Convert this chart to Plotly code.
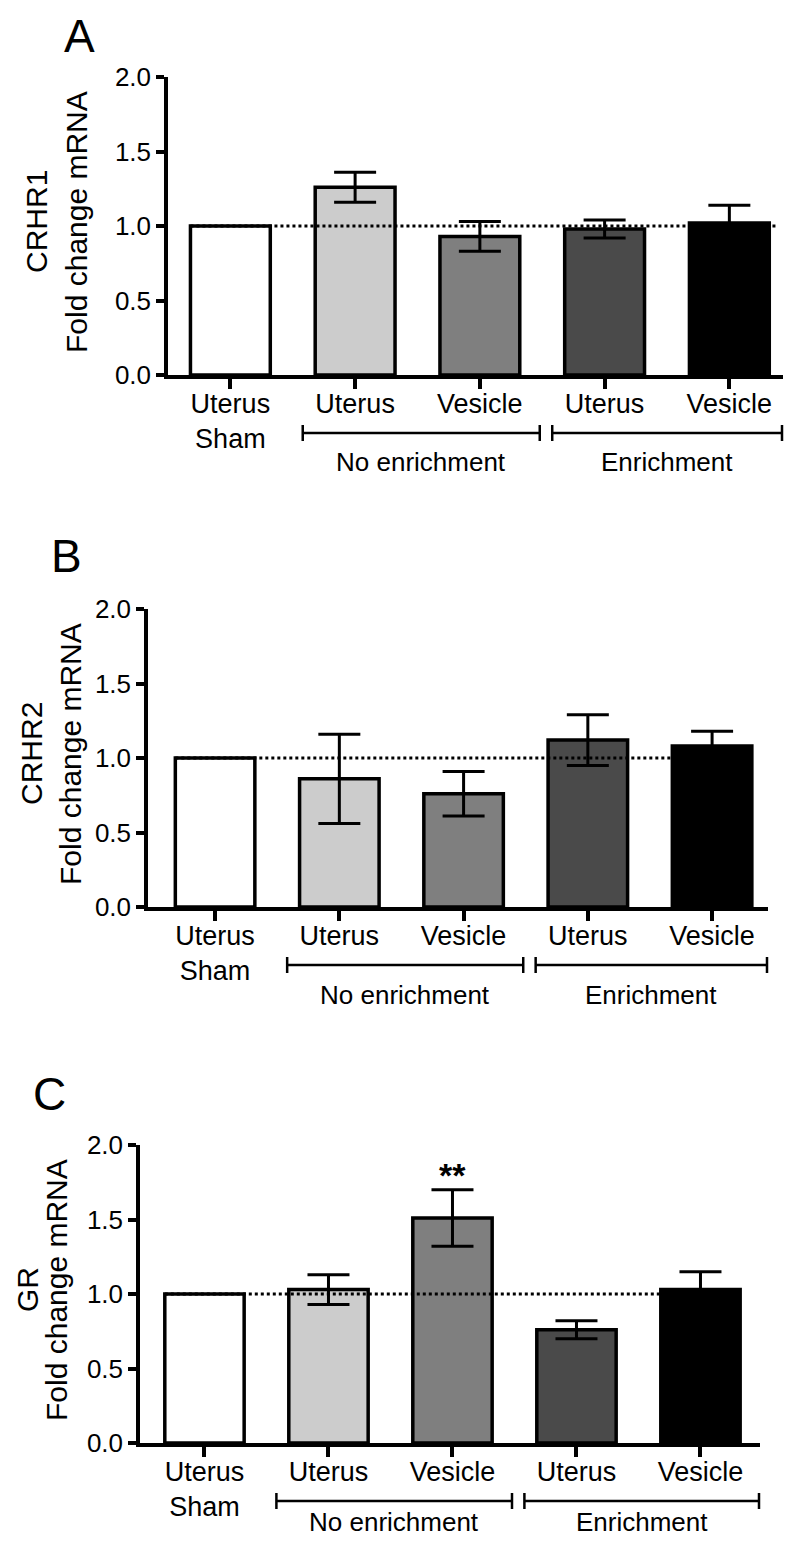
import plotly.graph_objects as go

# page is 792x1548; the html body adds an 8px margin, so the figure is made smaller
W, H = 792, 1548
OFF = 8
FW, FH = W - 2 * OFF, H - 2 * OFF

# data
categories = ["Uterus<br>Sham", "Uterus", "Vesicle", "Uterus", "Vesicle"]
bar_colors = ["white", "#cccccc", "#7f7f7f", "#4a4a4a", "black"]
groups = ["No enrichment", "Enrichment"]
group_idx = [(1, 2), (3, 4)]

crhr1_mean = [1.00, 1.26, 0.93, 0.98, 1.02]
crhr1_sem = [0.00, 0.10, 0.10, 0.06, 0.12]

crhr2_mean = [1.00, 0.86, 0.76, 1.12, 1.08]
crhr2_sem = [0.00, 0.30, 0.15, 0.17, 0.10]

gr_mean = [1.00, 1.03, 1.51, 0.76, 1.03]
gr_sem = [0.00, 0.10, 0.19, 0.06, 0.12]
gr_sig = ["", "", "**", "", ""]

y_ticks = [0.0, 0.5, 1.0, 1.5, 2.0]

FONT = "Arial, Liberation Sans, sans-serif"
LW = 3.5

# panel geometry in page pixels
panels = [
    dict(letter="A", gene="CRHR1", mean=crhr1_mean, sem=crhr1_sem, sig=None,
         left=168, right=783, top=77, bottom=375, xr=[-0.50, 4.43],
         letter_xy=(79, None), gene_x=37, fold_x=77, dot_end=4.38, glab=87),
    dict(letter="B", gene="CRHR2", mean=crhr2_mean, sem=crhr2_sem, sig=None,
         left=148, right=768, top=609, bottom=907, xr=[-0.54, 4.45],
         letter_xy=(66, 556), gene_x=31, fold_x=70, dot_end=3.70, glab=88),
    dict(letter="C", gene="GR", mean=gr_mean, sem=gr_sem, sig=gr_sig,
         left=140, right=760, top=1145, bottom=1443, xr=[-0.52, 4.48],
         letter_xy=(49, 1094), gene_x=27, fold_x=56, dot_end=3.70, glab=79),
]

fig = go.Figure()
shapes = []
annotations = []


def px_x(px):
    return min(max((px - OFF) / FW, 0), 1)


def px_y(py):
    return min(max(1 - (py - OFF) / FH, 0), 1)


for k, p in enumerate(panels):
    n = "" if k == 0 else str(k + 1)
    xa, ya = "x" + n, "y" + n
    x_idx = list(range(len(categories)))

    fig.add_trace(go.Bar(
        x=x_idx, y=p["mean"], width=0.64,
        marker=dict(color=bar_colors, line=dict(color="black", width=LW)),
        xaxis=xa, yaxis=ya, showlegend=False,
    ))
    fig.add_trace(go.Scatter(
        x=x_idx[1:], y=p["mean"][1:], mode="markers",
        marker=dict(size=1, opacity=0),
        error_y=dict(type="data", array=p["sem"][1:], color="black",
                     thickness=3, width=21),
        xaxis=xa, yaxis=ya, showlegend=False,
    ))

    dom_x = [px_x(p["left"]), px_x(p["right"])]
    dom_y = [px_y(p["bottom"]), px_y(p["top"])]
    fig.update_layout({
        "xaxis" + n: dict(domain=dom_x, range=p["xr"], anchor=ya, automargin=False,
                          tickvals=x_idx, ticktext=categories,
                          showline=True, linewidth=LW, linecolor="black",
                          ticks="outside", ticklen=10, tickwidth=LW, tickcolor="black",
                          ticklabelstandoff=-8,
                          showgrid=False, zeroline=False,
                          tickfont=dict(family=FONT, size=27, color="black")),
        "yaxis" + n: dict(domain=dom_y, range=[0, 2], anchor=xa, automargin=False,
                          tickvals=y_ticks, ticktext=[f"{v:.1f}" for v in y_ticks],
                          showline=True, linewidth=LW, linecolor="black",
                          ticks="outside", ticklen=8, tickwidth=LW, tickcolor="black",
                          showgrid=False, zeroline=False,
                          tickfont=dict(family=FONT, size=26, color="black")),
    })

    # reference line at 1.0
    shapes.append(dict(type="line", xref=xa, yref=ya, x0=-0.32, x1=p["dot_end"],
                       y0=1, y1=1, line=dict(color="black", width=3, dash="dot"),
                       layer="above"))

    # group brackets under the axis
    span = p["xr"][1] - p["xr"][0]

    def to_px(v):
        return p["left"] + (v - p["xr"][0]) / span * (p["right"] - p["left"])

    yb = p["bottom"] + 58
    for g, (i0, i1) in zip(groups, group_idx):
        xl, xr_ = px_x(to_px(i0 - 0.42)), px_x(min(to_px(i1 + 0.48), p["right"] - 1))
        line = dict(color="black", width=2.5)
        shapes.append(dict(type="line", xref="paper", yref="paper", x0=xl, x1=xr_,
                           y0=px_y(yb), y1=px_y(yb), line=line))
        for xe in (xl, xr_):
            shapes.append(dict(type="line", xref="paper", yref="paper", x0=xe, x1=xe,
                               y0=px_y(yb - 8), y1=px_y(yb + 8), line=line))
        annotations.append(dict(text=g, xref="paper", yref="paper",
                                x=(xl + xr_) / 2, y=px_y(p["bottom"] + p["glab"]),
                                showarrow=False,
                                xanchor="center", yanchor="middle",
                                font=dict(family=FONT, size=26, color="black")))

    # panel letter (the top one sits against the top edge)
    lx, ly = p["letter_xy"]
    annotations.append(dict(text=p["letter"], xref="paper", yref="paper",
                            x=px_x(lx), y=1 if ly is None else px_y(ly),
                            showarrow=False, xanchor="center",
                            yanchor="top" if ly is None else "middle",
                            font=dict(family=FONT, size=46, color="black")))

    # y-axis title, two lines
    ymid = px_y((p["top"] + p["bottom"]) / 2 - 4)
    for txt, tx in ((p["gene"], p["gene_x"]), ("Fold change mRNA", p["fold_x"])):
        annotations.append(dict(text=txt, xref="paper", yref="paper", x=px_x(tx), y=ymid,
                                showarrow=False, textangle=-90,
                                xanchor="center", yanchor="middle",
                                font=dict(family=FONT, size=30, color="black")))

    # significance marks
    if p["sig"]:
        for i, s in enumerate(p["sig"]):
            if s:
                annotations.append(dict(text="<b>" + s + "</b>", xref=xa, yref=ya,
                                        x=i, y=p["mean"][i] + p["sem"][i],
                                        showarrow=False, yanchor="bottom", yshift=-6,
                                        font=dict(family=FONT, size=34, color="black")))

fig.update_layout(
    width=FW, height=FH,
    margin=dict(l=0, r=0, t=0, b=0, autoexpand=False),
    plot_bgcolor="white", paper_bgcolor="white",
    shapes=shapes, annotations=annotations,
)

fig.write_html("out.html")
